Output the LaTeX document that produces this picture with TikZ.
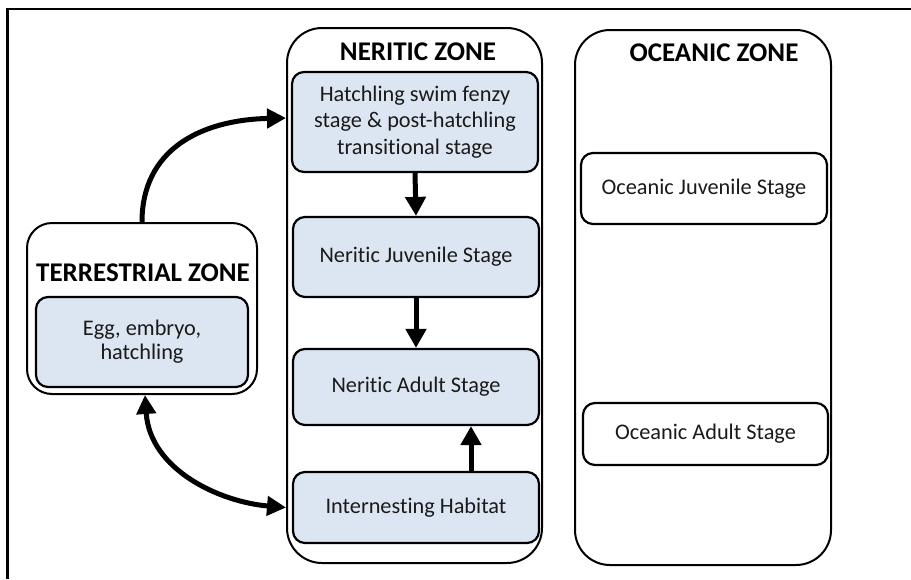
\documentclass[tikz,border=0pt]{standalone}
\usepackage{fontspec}
\setmainfont{Carlito}[Ligatures=NoCommon]
\usetikzlibrary{arrows.meta}
\definecolor{boxblue}{HTML}{DCE6F2}
\definecolor{txt}{HTML}{1A1A1A}
\begin{document}
\begin{tikzpicture}[x=1pt,y=-1pt,
  zone/.style={draw=black,line width=2pt,rounded corners=#1},
  zone/.default=30pt,
  stagebox/.style={draw=black,line width=2.2pt,rounded corners=12pt,fill=boxblue,
    inner sep=0pt,align=center,text=txt,font=\fontsize{22.3}{26.5}\selectfont},
  whitebox/.style={stagebox,fill=white},
  ztitle/.style={font=\fontsize{27}{31}\selectfont\bfseries,inner sep=0pt,text=black},
  flow/.style={line width=5pt,-{Triangle[length=19pt,width=20pt]}},
  cflow/.style={line width=5pt,-{Triangle[length=19pt,width=19pt]}},
  dflow/.style={line width=5pt,{Triangle[length=19pt,width=19pt]}-{Triangle[length=19pt,width=19pt]}}]
\useasboundingbox (0,0) rectangle (911,579);
% outer frame (only top and left edges visible)
\draw[line width=2.5pt] (7.5,579) -- (7.5,9) -- (911,9);

% zones
\node[zone=35pt,minimum width=255pt,minimum height=535pt] (neritic) at (414.5,295.5) {};
\node[zone=35pt,minimum width=256pt,minimum height=535pt] (oceanic) at (703,297.5) {};
\node[zone=25pt,minimum width=230pt,minimum height=171pt] (terr) at (142,308.5) {};

\node[ztitle] (tner) at (418,52) {NERITIC ZONE};
\node[ztitle] (toce) at (714,53) {OCEANIC ZONE};
\node[ztitle] (tter) at (143,273) {TERRESTRIAL ZONE};

% stage boxes
\node[stagebox,minimum width=246pt,minimum height=100pt] (hatch) at (415,122)
  {Hatchling swim fenzy\\stage \& post-hatchling\\transitional stage};
\node[stagebox,minimum width=246pt,minimum height=80pt] (njuv) at (416,257) {Neritic Juvenile Stage};
\node[stagebox,minimum width=246pt,minimum height=76pt] (nadult) at (416,387) {Neritic Adult Stage};
\node[stagebox,minimum width=246pt,minimum height=71pt] (inter) at (416,507.5) {Internesting Habitat};
\node[whitebox,minimum width=246pt,minimum height=71pt] (ojuv) at (704,188.5) {Oceanic Juvenile Stage};
\node[whitebox,minimum width=245pt,minimum height=62pt] (oadult) at (705.5,434) {Oceanic Adult Stage};
\node[stagebox,minimum width=212pt,minimum height=90pt,font=\fontsize{22.3}{24}\selectfont] (egg) at (142,342)
  {Egg, embryo,\\hatchling};

% connectors
\draw[flow] (hatch.south) -- (njuv.north);
\draw[flow] (njuv.south) -- (nadult.north);
\draw[flow] ([xshift=55pt]inter.north) -- ([xshift=55pt]nadult.south);

\coordinate (t1) at (neritic.west |- 0,118);
\coordinate (t2) at (neritic.west |- inter.west);
\draw[cflow] (terr.north) .. controls (142,150) and (200,120) .. (t1);
\draw[dflow] ([xshift=3pt]terr.south) .. controls (150,470) and (220,502) .. (t2);
\end{tikzpicture}
\end{document}
